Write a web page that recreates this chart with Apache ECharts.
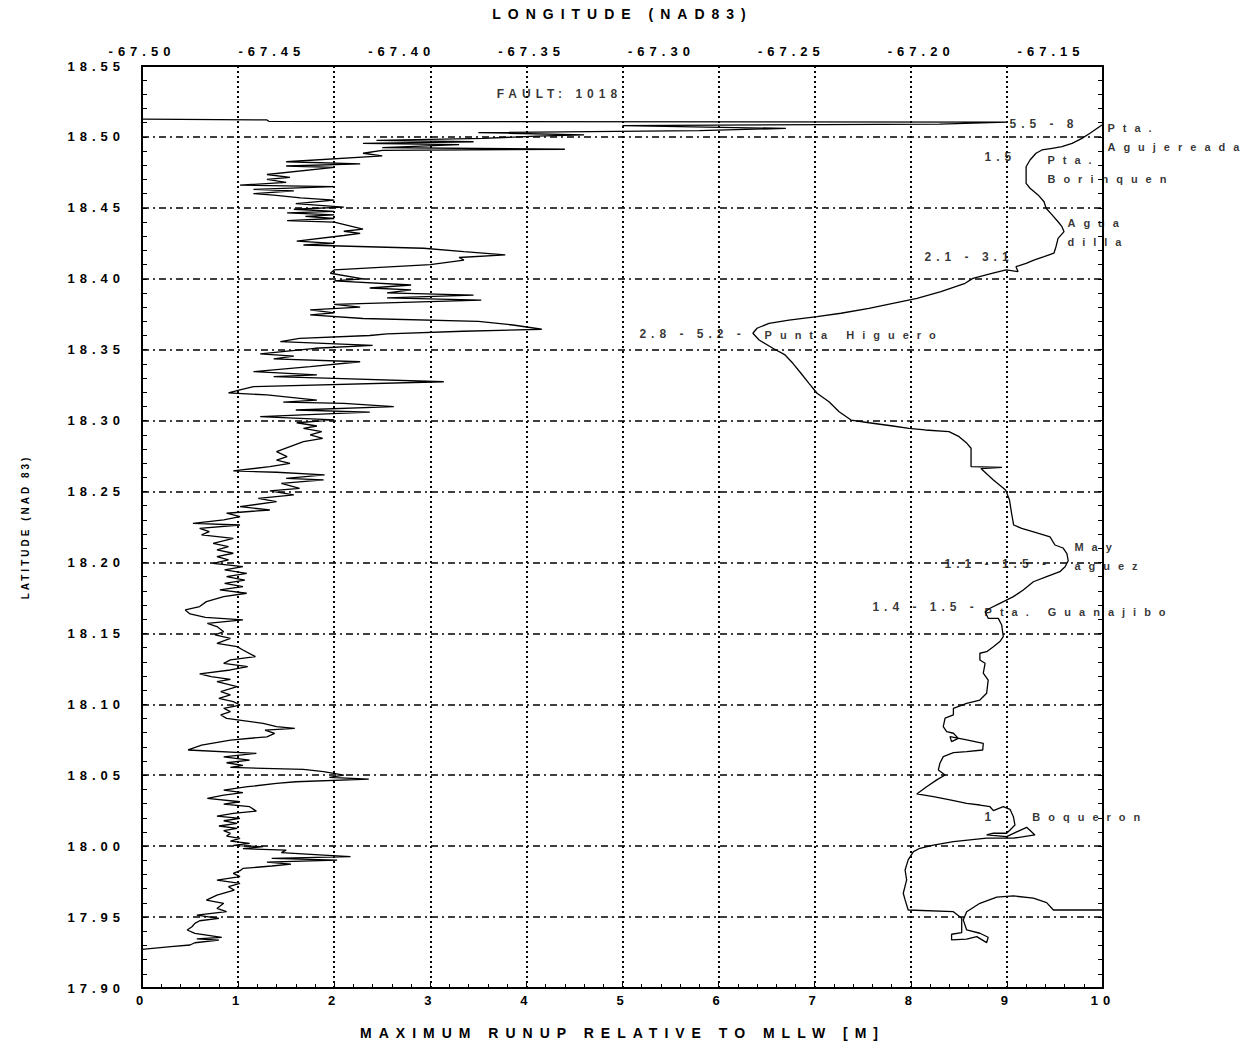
<!DOCTYPE html>
<html>
<head>
<meta charset="utf-8">
<script src="https://cdn.jsdelivr.net/npm/echarts@6/dist/echarts.min.js"></script>
<style>
html, body { margin: 0; padding: 0; background: #fff; }
#main { width: 1249px; height: 1047px; }
/* the original plot uses a wide-spaced bitmap font */
#main text[style*="10px"] { letter-spacing: 3px; }
#main text[style*="11px"] { letter-spacing: 8px; }
#main text[style*="12px"] { letter-spacing: 5px; }
#main text[style*="13px"] { letter-spacing: 5px; }
#main text[style*="14px"] { letter-spacing: 7px; }
</style>
</head>
<body>
<div id="main"></div>
<script>
// max runup profile, north to south
var runupM = [
  0, 1.3, 1.32, 9.0, 8.3, 5.0, 6.7, 5.8, 3.5, 4.6, 4.1, 3.55, 2.44, 3.45, 2.3, 3.3, 2.5, 4.4, 2.5, 2.3,
  2.5, 1.5, 2.27, 1.5, 2.0, 1.3, 1.54, 1.3, 1.5, 1.02, 2.0, 1.16, 1.58, 1.16, 1.37, 1.65, 2.0, 1.6, 2.1, 1.58,
  2.0, 1.51, 2.0, 1.7, 2.0, 1.51, 2.0, 2.3, 2.1, 2.27, 2.1, 1.61, 2.0, 1.68, 2.93, 3.35, 3.78, 3.3, 3.35, 3.0,
  2.0, 1.96, 2.3, 2.0, 2.8, 2.37, 2.8, 2.55, 3.45, 2.55, 3.53, 2.0, 2.27, 1.75, 2.0, 1.75, 2.3, 3.5, 3.86, 4.16,
  3.34, 2.55, 2.37, 1.64, 1.44, 2.4, 1.8, 1.23, 1.58, 1.37, 2.27, 1.75, 1.16, 1.82, 1.37, 2.0, 3.14, 1.16, 1.02, 0.9,
  1.3, 1.82, 1.47, 2.1, 2.62, 1.6, 2.37, 1.23,
  2.0, 1.61, 1.82, 1.68, 1.87, 1.75, 1.88, 1.68, 1.54, 1.40, 1.51, 1.40, 1.54, 1.33, 0.95, 1.40, 1.90, 1.50, 1.89, 1.45,
  1.64, 1.33, 1.58, 1.21, 1.40, 1.02, 1.33, 0.88, 1.02, 0.85, 0.53, 1.02, 0.60, 0.70, 0.62, 0.95, 0.74, 0.90, 0.78, 0.95,
  0.78, 0.90, 0.74, 1.05, 0.86, 1.09, 0.88, 1.07, 0.86, 1.05, 0.81, 1.09, 0.85, 0.67, 0.60, 0.45, 0.50, 0.66, 1.05, 0.68,
  0.78, 0.85, 0.76, 0.92, 0.78, 0.99, 1.05, 1.18, 0.92, 0.85, 1.10, 0.92, 0.60, 0.72, 0.92, 0.78, 0.99, 0.82, 0.92, 0.80,
  0.95, 1.02, 0.85, 0.92, 0.82, 0.88,
  1.26, 1.40, 1.59, 1.28, 1.38, 1.30, 0.92, 0.62, 0.48, 1.19, 0.85, 1.12, 0.88, 1.05, 0.92, 1.68, 1.89, 2.10, 1.95, 2.36,
  1.60, 1.40, 1.10, 0.85, 1.05, 0.85, 0.68, 1.02, 0.85, 1.12, 1.19, 0.95, 0.78, 1.02, 0.85, 0.99, 0.80, 0.99, 0.85, 0.92,
  0.88, 1.02, 0.92, 1.12, 0.95, 1.26, 1.05, 1.50, 1.45, 1.89, 2.17, 1.35, 2.03, 1.30, 1.55, 1.35, 1.05, 1.02, 0.95, 1.02,
  0.78, 1.02, 0.90, 0.96, 0.78, 0.67, 0.85, 0.78, 0.88, 0.57, 0.80, 0.60, 0.55, 0.52, 0.47, 0.55, 0.83, 0.57, 0.80, 0.55,
  0.50, 0.30, 0.00
];
var runupLat = [
  18.5125, 18.5120, 18.5110, 18.5105, 18.5090, 18.5080, 18.5060, 18.5045, 18.5030, 18.5015, 18.5005, 18.4990, 18.4975, 18.4966, 18.4955, 18.4945, 18.4925, 18.4913, 18.4905, 18.4885,
  18.4866, 18.4825, 18.4810, 18.4795, 18.4785, 18.4735, 18.4715, 18.4700, 18.4680, 18.4660, 18.4650, 18.4630, 18.4620, 18.4600, 18.4590, 18.4570, 18.4555, 18.4530, 18.4505, 18.4490,
  18.4475, 18.4465, 18.4450, 18.4440, 18.4425, 18.4410, 18.4400, 18.4350, 18.4335, 18.4320, 18.4305, 18.4265, 18.4250, 18.4238, 18.4215, 18.4191, 18.4168, 18.4150, 18.4132, 18.4100,
  18.4062, 18.4039, 18.4000, 18.3985, 18.3956, 18.3935, 18.3921, 18.3900, 18.3885, 18.3865, 18.3850, 18.3820, 18.3800, 18.3780, 18.3760, 18.3745, 18.3720, 18.3700, 18.3674, 18.3644,
  18.3630, 18.3611, 18.3600, 18.3580, 18.3557, 18.3530, 18.3510, 18.3470, 18.3455, 18.3435, 18.3415, 18.3380, 18.3345, 18.3322, 18.3310, 18.3298, 18.3274, 18.3239, 18.3216, 18.3195,
  18.3181, 18.3145, 18.3130, 18.3122, 18.3098, 18.3075, 18.3060, 18.3028,
  18.3005, 18.2985, 18.2962, 18.2946, 18.2922, 18.2899, 18.2875, 18.2852, 18.2817, 18.2781, 18.2746, 18.2722, 18.2699, 18.2676, 18.2645, 18.2636, 18.2617, 18.2593, 18.2582, 18.2558,
  18.2523, 18.2504, 18.2476, 18.2452, 18.2429, 18.2393, 18.2370, 18.2347, 18.2323, 18.2300, 18.2276, 18.2264, 18.2241, 18.2217, 18.2194, 18.2170, 18.2135, 18.2112, 18.2088, 18.2065,
  18.2041, 18.2018, 18.1994, 18.1970, 18.1947, 18.1923, 18.1900, 18.1876, 18.1853, 18.1830, 18.1806, 18.1783, 18.1759, 18.1724, 18.1689, 18.1665, 18.1637, 18.1613, 18.1595, 18.1571,
  18.1548, 18.1512, 18.1489, 18.1465, 18.1430, 18.1407, 18.1383, 18.1336, 18.1313, 18.1289, 18.1266, 18.1242, 18.1214, 18.1195, 18.1176, 18.1160, 18.1125, 18.1090, 18.1066, 18.1042,
  18.1019, 18.0995, 18.0972, 18.0948, 18.0925, 18.0901,
  18.0865, 18.0842, 18.0830, 18.0818, 18.0795, 18.0771, 18.0748, 18.0713, 18.0678, 18.0654, 18.0630, 18.0607, 18.0588, 18.0569, 18.0555, 18.0541, 18.0525, 18.0501, 18.0485, 18.0473,
  18.0454, 18.0442, 18.0419, 18.0395, 18.0377, 18.0360, 18.0337, 18.0313, 18.0297, 18.0278, 18.0247, 18.0231, 18.0212, 18.0196, 18.0179, 18.0160, 18.0142, 18.0125, 18.0109, 18.0090,
  18.0071, 18.0055, 18.0036, 18.0019, 18.0005, 17.9996, 17.9982, 17.9972, 17.9954, 17.9937, 17.9926, 17.9914, 17.9902, 17.9888, 17.9874, 17.9860, 17.9843, 17.9827, 17.9808, 17.9785,
  17.9761, 17.9738, 17.9714, 17.9690, 17.9655, 17.9620, 17.9597, 17.9561, 17.9538, 17.9514, 17.9491, 17.9474, 17.9456, 17.9432, 17.9409, 17.9385, 17.9357, 17.9347, 17.9338, 17.9319,
  17.9303, 17.9291, 17.9272
];

// west coast of Puerto Rico, north to south
var coastLon = [
  -67.1304, -67.1350, -67.1381, -67.1419, -67.1458, -67.1496, -67.1535, -67.1558, -67.1581, -67.1596,
  -67.1596, -67.1581, -67.1550, -67.1527, -67.1519, -67.1496, -67.1473, -67.1458, -67.1450, -67.1473,
  -67.1481, -67.1489, -67.1527, -67.1566, -67.1596, -67.1635, -67.1627, -67.1673, -67.1724, -67.1801,
  -67.1831, -67.1924, -67.2016, -67.2109, -67.2201, -67.2309, -67.2401, -67.2509, -67.2586, -67.2632,
  -67.2648, -67.2624, -67.2571, -67.2524, -67.2494, -67.2463, -67.2432, -67.2401, -67.2355, -67.2316,
  -67.2270, -67.2201, -67.2109, -67.2047, -67.1985, -67.1893, -67.1854, -67.1824, -67.1808, -67.1808,
  -67.1689, -67.1770, -67.1722, -67.1675, -67.1660, -67.1652, -67.1644, -67.1613, -67.1551, -67.1504,
  -67.1485, -67.1454, -67.1439, -67.1434, -67.1446, -67.1466, -67.1517, -67.1568, -67.1607, -67.1645,
  -67.1697, -67.1735, -67.1754, -67.1742, -67.1703, -67.1690, -67.1684, -67.1697, -67.1722, -67.1748,
  -67.1774, -67.1774, -67.1754, -67.1761, -67.1742, -67.1748, -67.1774, -67.1825, -67.1876, -67.1876,
  -67.1908, -67.1915, -67.1902, -67.1876, -67.1857, -67.1883, -67.1889, -67.1825, -67.1761, -67.1763,
  -67.1825, -67.1876, -67.1915, -67.1928, -67.1934, -67.1908, -67.1940, -67.1979, -67.2017, -67.1953,
  -67.1889, -67.1825, -67.1774, -67.1735, -67.1722, -67.1684, -67.1658, -67.1645, -67.1639, -67.1658,
  -67.1671, -67.1722, -67.1748, -67.1671, -67.1594, -67.1562, -67.1645, -67.1748, -67.1876, -67.1953,
  -67.2005, -67.2030, -67.2050, -67.2062, -67.2056, -67.2069, -67.2062, -67.2050, -67.1876, -67.1844,
  -67.1844, -67.1883, -67.1883, -67.1825, -67.1786, -67.1748, -67.1742, -67.1774, -67.1825, -67.1838,
  -67.1825, -67.1774, -67.1709, -67.1645, -67.1568, -67.1517, -67.1491, -67.1304
];
var coastLat = [
  18.5084, 18.5026, 18.4990, 18.4955, 18.4931, 18.4920, 18.4908, 18.4885, 18.4837, 18.4790,
  18.4673, 18.4638, 18.4591, 18.4543, 18.4497, 18.4450, 18.4402, 18.4367, 18.4332, 18.4285,
  18.4226, 18.4180, 18.4156, 18.4132, 18.4109, 18.4085, 18.4050, 18.4062, 18.4039, 18.4003,
  18.3968, 18.3909, 18.3862, 18.3827, 18.3792, 18.3757, 18.3733, 18.3709, 18.3686, 18.3651,
  18.3616, 18.3568, 18.3510, 18.3463, 18.3404, 18.3334, 18.3263, 18.3193, 18.3133, 18.3063,
  18.3004, 18.2985, 18.2962, 18.2946, 18.2934, 18.2922, 18.2887, 18.2840, 18.2805, 18.2675,
  18.2670, 18.2662, 18.2581, 18.2511, 18.2440, 18.2347, 18.2264, 18.2241, 18.2206, 18.2180,
  18.2123, 18.2102, 18.2063, 18.2012, 18.1970, 18.1935, 18.1900, 18.1864, 18.1806, 18.1759,
  18.1712, 18.1677, 18.1653, 18.1606, 18.1606, 18.1559, 18.1477, 18.1442, 18.1406, 18.1371,
  18.1360, 18.1312, 18.1289, 18.1219, 18.1171, 18.1078, 18.1030, 18.1007, 18.0972, 18.0925,
  18.0902, 18.0842, 18.0807, 18.0796, 18.0760, 18.0737, 18.0772, 18.0749, 18.0725, 18.0678,
  18.0666, 18.0659, 18.0631, 18.0584, 18.0537, 18.0502, 18.0467, 18.0419, 18.0368, 18.0349,
  18.0326, 18.0302, 18.0290, 18.0278, 18.0250, 18.0278, 18.0260, 18.0208, 18.0149, 18.0114,
  18.0091, 18.0091, 18.0079, 18.0067, 18.0133, 18.0079, 18.0056, 18.0056, 18.0032, 18.0008,
  17.9985, 17.9961, 17.9903, 17.9832, 17.9762, 17.9668, 17.9621, 17.9550, 17.9538, 17.9492,
  17.9390, 17.9379, 17.9339, 17.9344, 17.9362, 17.9320, 17.9358, 17.9386, 17.9409, 17.9480,
  17.9538, 17.9597, 17.9640, 17.9649, 17.9633, 17.9602, 17.9550, 17.9550
];

// place names and observed runup ranges
var noteText = ['FAULT: 1018', '5.5 - 8', 'Pta.\nAgujereada', '1.5', 'Pta.\nBorinquen', 'Agua\ndilla',
  '2.1 - 3.1', '2.8 - 5.2 -', 'Punta Higuero', '1.1 - 1.5 -', 'May\naguez', '1.4 - 1.5 -',
  'Pta. Guanajibo', '1', 'Boqueron'];
var noteLon = [-67.3391, -67.1658, -67.1281, -67.1754, -67.1512, -67.1435, -67.1985, -67.3083, -67.2601,
  -67.1908, -67.1408, -67.2186, -67.1754, -67.1754, -67.1570];
var noteLat = [18.5296, 18.5091, 18.4992, 18.4858, 18.4767, 18.4323, 18.4153, 18.3604, 18.3597,
  18.1983, 18.2039, 18.1686, 18.1644, 18.0199, 18.0199];

var runupData = runupM.map(function (r, i) { return [r, runupLat[i]]; });
var coastData = coastLon.map(function (x, i) { return [x, coastLat[i]]; });
var noteData = noteText.map(function (t, i) {
  return {
    name: t,
    value: [noteLon[i], noteLat[i]],
    label: {
      fontSize: /[a-z]/.test(t) ? 11 : 12,
      align: i === 0 ? 'center' : 'left'
    }
  };
});

var chart = echarts.init(document.getElementById('main'), null, { renderer: 'svg' });
chart.setOption({
  animation: false,
  backgroundColor: '#fff',
  textStyle: { fontFamily: 'Liberation Sans', fontWeight: 'bold', color: '#000' },
  grid: { left: 142, right: 146, top: 66, bottom: 59 },
  xAxis: [{
    type: 'value',
    position: 'bottom',
    min: 0, max: 10, interval: 1,
    name: 'MAXIMUM RUNUP RELATIVE TO MLLW [M]',
    nameLocation: 'middle',
    nameGap: 38,
    nameTextStyle: { fontSize: 14, fontWeight: 'bold', color: '#000', fontFamily: 'Liberation Sans' },
    axisLine: { lineStyle: { color: '#000', width: 2 } },
    axisTick: { inside: true, length: 5, lineStyle: { color: '#000' } },
    minorTick: { show: true, splitNumber: 5, length: 4, lineStyle: { color: '#000' } },
    axisLabel: { fontSize: 13, fontWeight: 'bold', color: '#000', margin: 6, fontFamily: 'Liberation Sans' },
    splitLine: { show: true, lineStyle: { color: '#000', type: [2, 3], width: 2 } }
  }, {
    type: 'value',
    position: 'top',
    min: -67.50, max: -67.13, interval: 0.05,
    name: 'LONGITUDE (NAD83)',
    nameLocation: 'middle',
    nameGap: 45,
    nameTextStyle: { fontSize: 14, fontWeight: 'bold', color: '#000', fontFamily: 'Liberation Sans' },
    axisLine: { lineStyle: { color: '#000', width: 2 } },
    axisTick: { show: false },
    axisLabel: {
      fontSize: 13, fontWeight: 'bold', color: '#000', margin: 8, showMaxLabel: false,
      fontFamily: 'Liberation Sans',
      formatter: function (v) { return Math.abs(v + 67.13) < 1e-6 ? '' : v.toFixed(2); }
    },
    splitLine: { show: false }
  }],
  yAxis: [{
    type: 'value',
    position: 'left',
    min: 17.90, max: 18.55, interval: 0.05,
    name: 'LATITUDE (NAD 83)',
    nameLocation: 'middle',
    nameGap: 112,
    nameTextStyle: { fontSize: 10, fontWeight: 'bold', color: '#000', fontFamily: 'Liberation Sans' },
    axisLine: { lineStyle: { color: '#000', width: 2 } },
    axisTick: { inside: true, length: 5, lineStyle: { color: '#000' } },
    minorTick: { show: true, splitNumber: 5, length: 5, lineStyle: { color: '#000' } },
    axisLabel: {
      fontSize: 13, fontWeight: 'bold', color: '#000', margin: 17, fontFamily: 'Liberation Sans',
      formatter: function (v) { return v.toFixed(2); }
    },
    splitLine: { show: true, lineStyle: { color: '#000', type: [7, 4, 2, 4], width: 1.5 } }
  }, {
    type: 'value',
    position: 'right',
    min: 17.90, max: 18.55, interval: 0.05,
    axisLine: { show: true, lineStyle: { color: '#000', width: 2 } },
    axisTick: { show: true, inside: true, length: 5, lineStyle: { color: '#000' } },
    minorTick: { show: true, splitNumber: 5, length: 5, lineStyle: { color: '#000' } },
    axisLabel: { show: false },
    splitLine: { show: false }
  }],
  series: [{
    name: 'runup',
    type: 'line',
    xAxisIndex: 0, yAxisIndex: 0,
    data: runupData,
    showSymbol: false,
    lineStyle: { color: '#000', width: 1.3 }
  }, {
    name: 'coast',
    type: 'line',
    xAxisIndex: 1, yAxisIndex: 0,
    data: coastData,
    showSymbol: false,
    lineStyle: { color: '#000', width: 1.3 }
  }, {
    name: 'notes',
    type: 'scatter',
    xAxisIndex: 1, yAxisIndex: 0,
    data: noteData,
    clip: false,
    symbolSize: 1,
    itemStyle: { color: 'rgba(0,0,0,0)' },
    label: {
      show: true,
      position: [0, 0],
      verticalAlign: 'middle',
      lineHeight: 19,
      color: '#000',
      fontWeight: 'bold',
      fontFamily: 'Liberation Sans',
      formatter: function (p) { return p.name; }
    }
  }]
});
</script>
</body>
</html>
